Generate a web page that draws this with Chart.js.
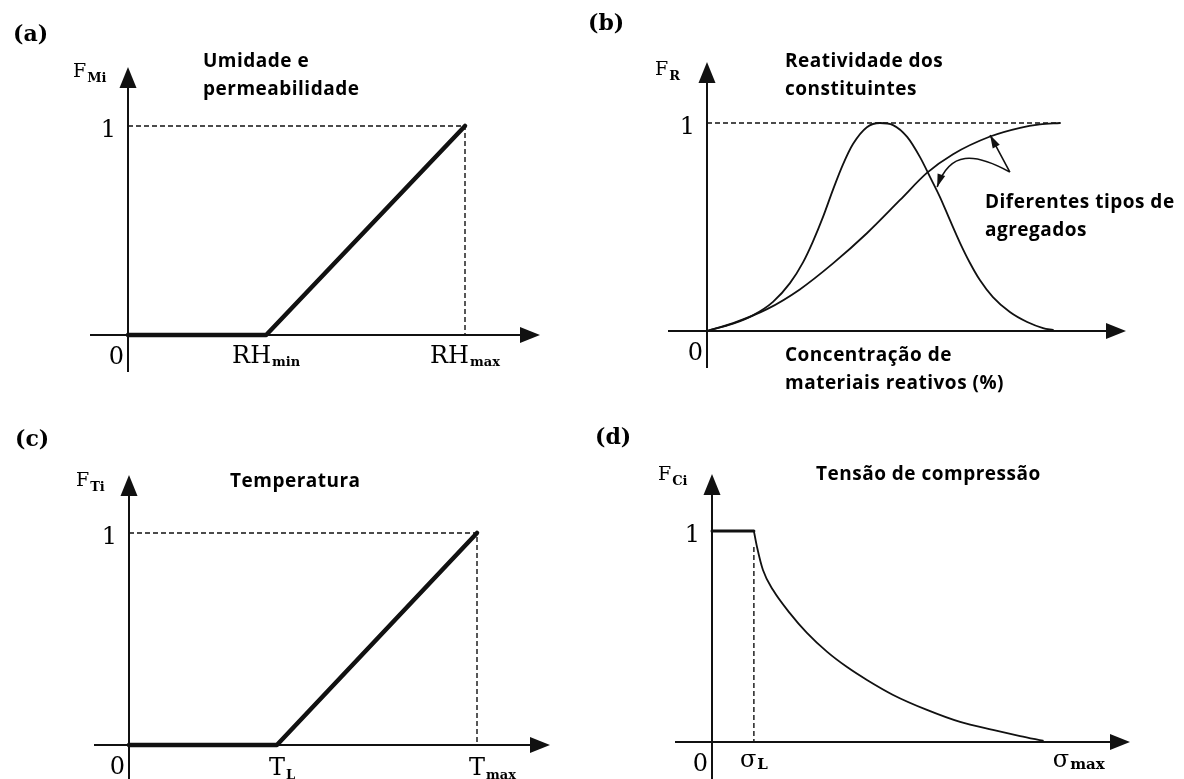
<!DOCTYPE html>
<html>
<head>
<meta charset="utf-8">
<title>Fatores de degradação</title>
<script src="https://cdn.jsdelivr.net/npm/chart.js@4.4.1/dist/chart.umd.min.js"></script>
<style>
  body { margin: 0; background: #fff; }
  #wrap { position: relative; width: 1184px; height: 779px; overflow: hidden; background: #fff; }
  #wrap canvas { position: absolute; }
</style>
</head>
<body>
<div id="wrap">
  <canvas id="chartA" width="576" height="390" style="left:0;top:0"></canvas>
  <canvas id="chartB" width="608" height="400" style="left:576px;top:0"></canvas>
  <canvas id="chartC" width="576" height="389" style="left:0;top:390px"></canvas>
  <canvas id="chartD" width="608" height="389" style="left:576px;top:390px"></canvas>
</div>
<script>
// (a) humidity factor, x as a fraction of RHmax
const humidityX = [0, 0.41, 1];
const humidityF = [0, 0, 1];
const humidityTicks = [0.41, 1];
const humidityTickLabels = [['RH', 'min'], ['RH', 'max']];

// (b) reactivity vs. reactive material content (% of plotted range)
const bellX = [0, 7.4, 13, 18.7, 23.5, 27.2, 30, 32.9, 35.7, 38.5, 41.4, 45.3, 49, 52.7, 56.7, 60.3, 63.2, 66, 68.8, 71.7, 74.5, 77.3, 81, 85.8, 90.7, 95.2, 98];
const bellF = [0, 0.035, 0.075, 0.14, 0.23, 0.33, 0.43, 0.55, 0.68, 0.8, 0.9, 0.98, 1, 0.99, 0.933, 0.837, 0.74, 0.644, 0.534, 0.423, 0.327, 0.245, 0.163, 0.091, 0.043, 0.014, 0.005];
const plateauX = [0, 7.4, 17, 26.3, 35.7, 45.3, 54.7, 62.3, 69.7, 80.2, 88.7, 94.3, 100];
const plateauF = [0, 0.038, 0.105, 0.2, 0.325, 0.47, 0.63, 0.76, 0.85, 0.935, 0.977, 0.993, 1];

// (c) temperature factor, x as a fraction of Tmax
const temperatureX = [0, 0.425, 1];
const temperatureF = [0, 0, 1];
const temperatureTicks = [0.425, 1];
const temperatureTickLabels = [['T', 'L'], ['T', 'max']];

// (d) compressive stress factor, x as a fraction of sigma max
const stressX = [0.12, 0.129, 0.146, 0.175, 0.223, 0.272, 0.33, 0.387, 0.444, 0.519, 0.616, 0.711, 0.805, 0.883, 0.948];
const stressF = [1, 0.924, 0.815, 0.72, 0.611, 0.517, 0.427, 0.355, 0.294, 0.223, 0.152, 0.095, 0.057, 0.028, 0.006];
const stressTicks = [0.12, 1];
const stressTickLabels = [['σ', 'L'], ['σ', 'max']];

const panelLetters = ['(a)', '(b)', '(c)', '(d)'];
const panelTitles = [['Umidade e', 'permeabilidade'], ['Reatividade dos', 'constituintes'], ['Temperatura'], ['Tensão de compressão']];
const factorLabels = [['F', 'Mi'], ['F', 'R'], ['F', 'Ti'], ['F', 'Ci']];
const concentrationTitle = ['Concentração de', 'materiais reativos (%)'];
const aggregateNote = ['Diferentes tipos de', 'agregados'];

const ink = '#111';
const serif = '"DejaVu Serif", "Liberation Serif", serif';
const sans = '"Open Sans", "Noto Sans", sans-serif';

// page layout of each panel (pixels): canvas box, origin, size of one unit, axis extents
const layouts = [
  { box: [0, 0, 576, 390], origin: [128, 335], unit: [337, 209], xAxis: [90, 540], yAxis: [372, 67],
    letter: [13, 41], title: [203, [67, 95]], factor: [73, 77], tickDy: 28, subFont: 'bold 13px ' + serif, subDy: 3, center: ['all', 'all'] },
  { box: [576, 0, 608, 400], origin: [707, 331], unit: [3.53, 208], xAxis: [668, 1126], yAxis: [368, 62],
    letter: [588, 30], title: [785, [67, 95]], factor: [655, 75] },
  { box: [0, 390, 576, 389], origin: [129, 745], unit: [348, 212], xAxis: [94, 550], yAxis: [779, 475],
    letter: [15, 446], title: [230, [487]], factor: [76, 486], tickDy: 30, subFont: 'bold 13px ' + serif, subDy: 4, center: ['main', 'main'] },
  { box: [576, 390, 608, 389], origin: [712, 742], unit: [349, 211], xAxis: [675, 1130], yAxis: [779, 474],
    letter: [595, 444], title: [816, [480]], factor: [658, 480], tickDy: 25, subFont: 'bold 15px ' + serif, subDy: 2, center: ['all', 'main'] }
];

// leader arrows of the "Diferentes tipos" note, in data units of panel (b)
const leader = { apex: [85.8, 0.764], straightTip: [80.2, 0.942], bend: [[75.9, 0.856], [68.8, 0.87]], curvedTip: [65.2, 0.692] };

function xy (xs, ys) {
  return xs.map((x, i) => ({ x, y: ys[i] }));
}

function lineSet (points, width, extra) {
  return Object.assign({
    data: points, borderColor: ink, borderWidth: width, pointRadius: 0,
    fill: false, tension: 0, borderCapStyle: 'round', borderJoinStyle: 'round'
  }, extra || {});
}

function arrowHead (ctx, fx, fy, tx, ty, len, half) {
  const a = Math.atan2(ty - fy, tx - fx);
  ctx.beginPath();
  ctx.moveTo(tx, ty);
  ctx.lineTo(tx - len * Math.cos(a) + half * Math.sin(a), ty - len * Math.sin(a) - half * Math.cos(a));
  ctx.lineTo(tx - len * Math.cos(a) - half * Math.sin(a), ty - len * Math.sin(a) + half * Math.cos(a));
  ctx.closePath();
  ctx.fill();
}

// main text with a subscript; centre on the whole label or on the main glyph
function subText (ctx, parts, x, y, mainFont, subFont, subDy, center) {
  ctx.font = mainFont;
  const wMain = ctx.measureText(parts[0]).width;
  ctx.font = subFont;
  const wSub = ctx.measureText(parts[1]).width;
  let left = x;
  if (center === 'all') left = x - (wMain + wSub + 1) / 2;
  if (center === 'main') left = x - wMain / 2;
  ctx.textAlign = 'left';
  ctx.font = mainFont;
  ctx.fillText(parts[0], left, y);
  ctx.font = subFont;
  ctx.fillText(parts[1], left + wMain + 1, y + subDy);
}

function sansLines (ctx, lines, x, baselines) {
  ctx.font = 'bold 19px ' + sans;
  ctx.letterSpacing = '0.5px';
  ctx.textAlign = 'left';
  lines.forEach((t, i) => ctx.fillText(t, x, baselines[i]));
  ctx.letterSpacing = '0px';
}

function decor (idx, ticks, tickLabels) {
  const L = layouts[idx];
  return {
    id: 'decor' + idx,
    beforeDatasetsDraw (chart) {
      const ctx = chart.ctx;
      const ox = chart.scales.x.getPixelForValue(0);
      const oy = chart.scales.y.getPixelForValue(0);
      const bx = L.box[0], by = L.box[1];
      ctx.save();
      ctx.strokeStyle = ink;
      ctx.fillStyle = ink;
      ctx.lineWidth = 2;
      // axes with filled arrowheads
      ctx.beginPath();
      ctx.moveTo(L.xAxis[0] - bx, oy);
      ctx.lineTo(L.xAxis[1] - bx - 10, oy);
      ctx.moveTo(ox, L.yAxis[0] - by);
      ctx.lineTo(ox, L.yAxis[1] - by + 10);
      ctx.stroke();
      arrowHead(ctx, ox, oy, L.xAxis[1] - bx, oy, 20, 8);
      arrowHead(ctx, ox, oy, ox, L.yAxis[1] - by, 21, 8.5);
      ctx.restore();
    },
    afterDatasetsDraw (chart) {
      const ctx = chart.ctx;
      const xs = chart.scales.x, ys = chart.scales.y;
      const ox = xs.getPixelForValue(0);
      const oy = ys.getPixelForValue(0);
      const bx = L.box[0], by = L.box[1];
      ctx.save();
      ctx.fillStyle = '#000';
      ctx.strokeStyle = ink;
      ctx.textBaseline = 'alphabetic';

      ctx.font = 'bold 22px ' + serif;
      ctx.textAlign = 'left';
      ctx.fillText(panelLetters[idx], L.letter[0] - bx, L.letter[1] - by);

      // 0 and 1 on the axes
      ctx.font = '24px ' + serif;
      ctx.textAlign = 'right';
      ctx.fillText('0', ox - 4, oy + 29);
      ctx.fillText('1', ox - 12, ys.getPixelForValue(1) + 11);

      subText(ctx, factorLabels[idx], L.factor[0] - bx, L.factor[1] - by, '19px ' + serif, 'bold 13px ' + serif, 5, null);

      if (ticks) {
        ticks.forEach((v, i) => {
          subText(ctx, tickLabels[i], xs.getPixelForValue(v), oy + L.tickDy, '24px ' + serif, L.subFont, L.subDy, L.center[i]);
        });
      }

      sansLines(ctx, panelTitles[idx], L.title[0] - bx, L.title[1].map(b => b - by));

      if (idx === 1) {
        sansLines(ctx, concentrationTitle, 785 - bx, [361, 389]);
        sansLines(ctx, aggregateNote, 985 - bx, [208, 236]);
        const px = p => [xs.getPixelForValue(p[0]), ys.getPixelForValue(p[1])];
        const a = px(leader.apex), t1 = px(leader.straightTip), t2 = px(leader.curvedTip);
        const c1 = px(leader.bend[0]), c2 = px(leader.bend[1]);
        ctx.lineWidth = 1.6;
        ctx.beginPath();
        ctx.moveTo(a[0], a[1]);
        ctx.lineTo(t1[0], t1[1]);
        ctx.moveTo(a[0], a[1]);
        ctx.bezierCurveTo(c1[0], c1[1], c2[0], c2[1], t2[0], t2[1]);
        ctx.stroke();
        ctx.fillStyle = ink;
        arrowHead(ctx, a[0], a[1], t1[0], t1[1], 13, 4);
        arrowHead(ctx, c2[0], c2[1], t2[0], t2[1], 13, 4);
      }
      ctx.restore();
    }
  };
}

function makeChart (canvasId, idx, datasets, ticks, tickLabels) {
  const L = layouts[idx];
  const [left, top, w, h] = L.box;
  return new Chart(document.getElementById(canvasId), {
    type: 'line',
    data: { datasets },
    options: {
      responsive: false,
      animation: false,
      devicePixelRatio: 1,
      events: [],
      layout: { padding: 0 },
      plugins: { legend: { display: false }, tooltip: { enabled: false } },
      scales: {
        x: { type: 'linear', display: false, min: (left - L.origin[0]) / L.unit[0], max: (left + w - L.origin[0]) / L.unit[0] },
        y: { type: 'linear', display: false, min: (L.origin[1] - top - h) / L.unit[1], max: (L.origin[1] - top) / L.unit[1] }
      }
    },
    plugins: [decor(idx, ticks, tickLabels)]
  });
}

const dashed = { borderDash: [5, 3], borderCapStyle: 'butt' };
const smooth = { cubicInterpolationMode: 'monotone' };

makeChart('chartA', 0, [
  lineSet(xy(humidityX, humidityF), 4.5),
  lineSet(xy([0, humidityX[2], humidityX[2]], [1, 1, 0]), 1.4, dashed)
], humidityTicks, humidityTickLabels);

makeChart('chartB', 1, [
  lineSet(xy(bellX, bellF), 1.8, smooth),
  lineSet(xy(plateauX, plateauF), 1.8, smooth),
  lineSet(xy([0, plateauX[plateauX.length - 1]], [1, 1]), 1.4, dashed)
]);

makeChart('chartC', 2, [
  lineSet(xy(temperatureX, temperatureF), 4.5),
  lineSet(xy([0, temperatureX[2], temperatureX[2]], [1, 1, 0]), 1.4, dashed)
], temperatureTicks, temperatureTickLabels);

makeChart('chartD', 3, [
  lineSet(xy([0, stressX[0]], [1, 1]), 3),
  lineSet(xy(stressX, stressF), 1.8, smooth),
  lineSet(xy([stressX[0], stressX[0]], [stressF[1], 0]), 1.4, dashed)
], stressTicks, stressTickLabels);
</script>
</body>
</html>
